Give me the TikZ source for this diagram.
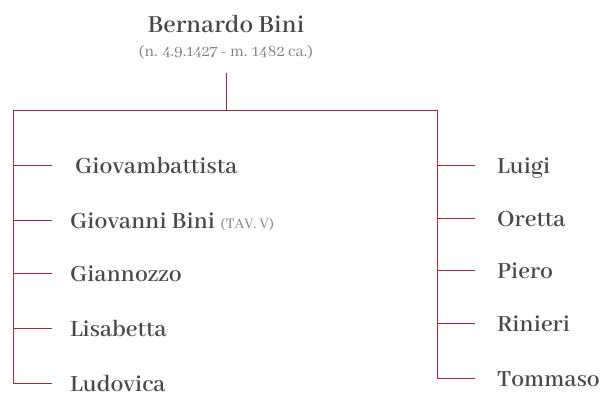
\documentclass[tikz,border=0pt]{standalone}
\usepackage{fontspec}
\setmainfont{Abhaya Libre}[BoldFont={Abhaya Libre SemiBold}]
\usepackage{tikz}
\usetikzlibrary{positioning,calc}
\definecolor{BiniRed}{RGB}{160,45,55}
\definecolor{InkGray}{RGB}{72,72,72}
\definecolor{DateGray}{RGB}{130,130,130}
\tikzset{
	rule/.style={draw=BiniRed,line width=0.9pt},
	heir/.style={anchor=base west,inner sep=0pt,text=InkGray,font=\fontsize{25.5}{25.5}\selectfont\bfseries},
	head/.style={anchor=base,inner sep=0pt,text=InkGray,font=\fontsize{27}{27}\selectfont\bfseries},
	dates/.style={anchor=base,inner sep=0pt,text=DateGray,font=\fontsize{17.5}{17.5}\selectfont},
	tav/.style={anchor=base west,inner sep=0pt,text=DateGray,font=\fontsize{16}{16}\selectfont},
}
\begin{document}
\begin{tikzpicture}[x=1pt,y=-1pt]
	\useasboundingbox (0,0) rectangle (603,395);
	\node[head] (bernardo) at (226,33) {Bernardo Bini};
	\node[dates] (nascita) at (226,57) {(n. 4.9.1427 - m. 1482 ca.)};
	\coordinate (stem) at (226,73);
	\coordinate (fork) at (226,110);
	\coordinate (lt) at (13,110); \coordinate (rt) at (437,110);
	\coordinate (lb) at (13,383); \coordinate (rb) at (437,378);
	\draw[rule] (stem)--(fork);
	\draw[rule] (lb)--(lt)--(rt)--(rb);
	% figli a sinistra
	\foreach \n/\y/\x/\t in {giovambattista/165/75/Giovambattista,giovanni/220/70/Giovanni Bini,
		giannozzo/273/70/Giannozzo,lisabetta/328/70/Lisabetta,ludovica/383/70/Ludovica}{
		\coordinate (\n-l) at (13,\y); \coordinate (\n-r) at (52,\y);
		\draw[rule] (\n-l)--(\n-r);
		\node[heir] (\n) at (\x,\y+9) {\t};
	}
	\node[tav] (tavola) at ($(giovanni.base east)+(5,0)$) {(TAV. V)};
	% figli a destra
	\foreach \n/\y/\t in {luigi/165/Luigi,oretta/218/Oretta,piero/270/Piero,
		rinieri/323/Rinieri,tommaso/378/Tommaso}{
		\coordinate (\n-l) at (437,\y); \coordinate (\n-r) at (475,\y);
		\draw[rule] (\n-l)--(\n-r);
		\node[heir] (\n) at (497,\y+9) {\t};
	}
\end{tikzpicture}
\end{document}
